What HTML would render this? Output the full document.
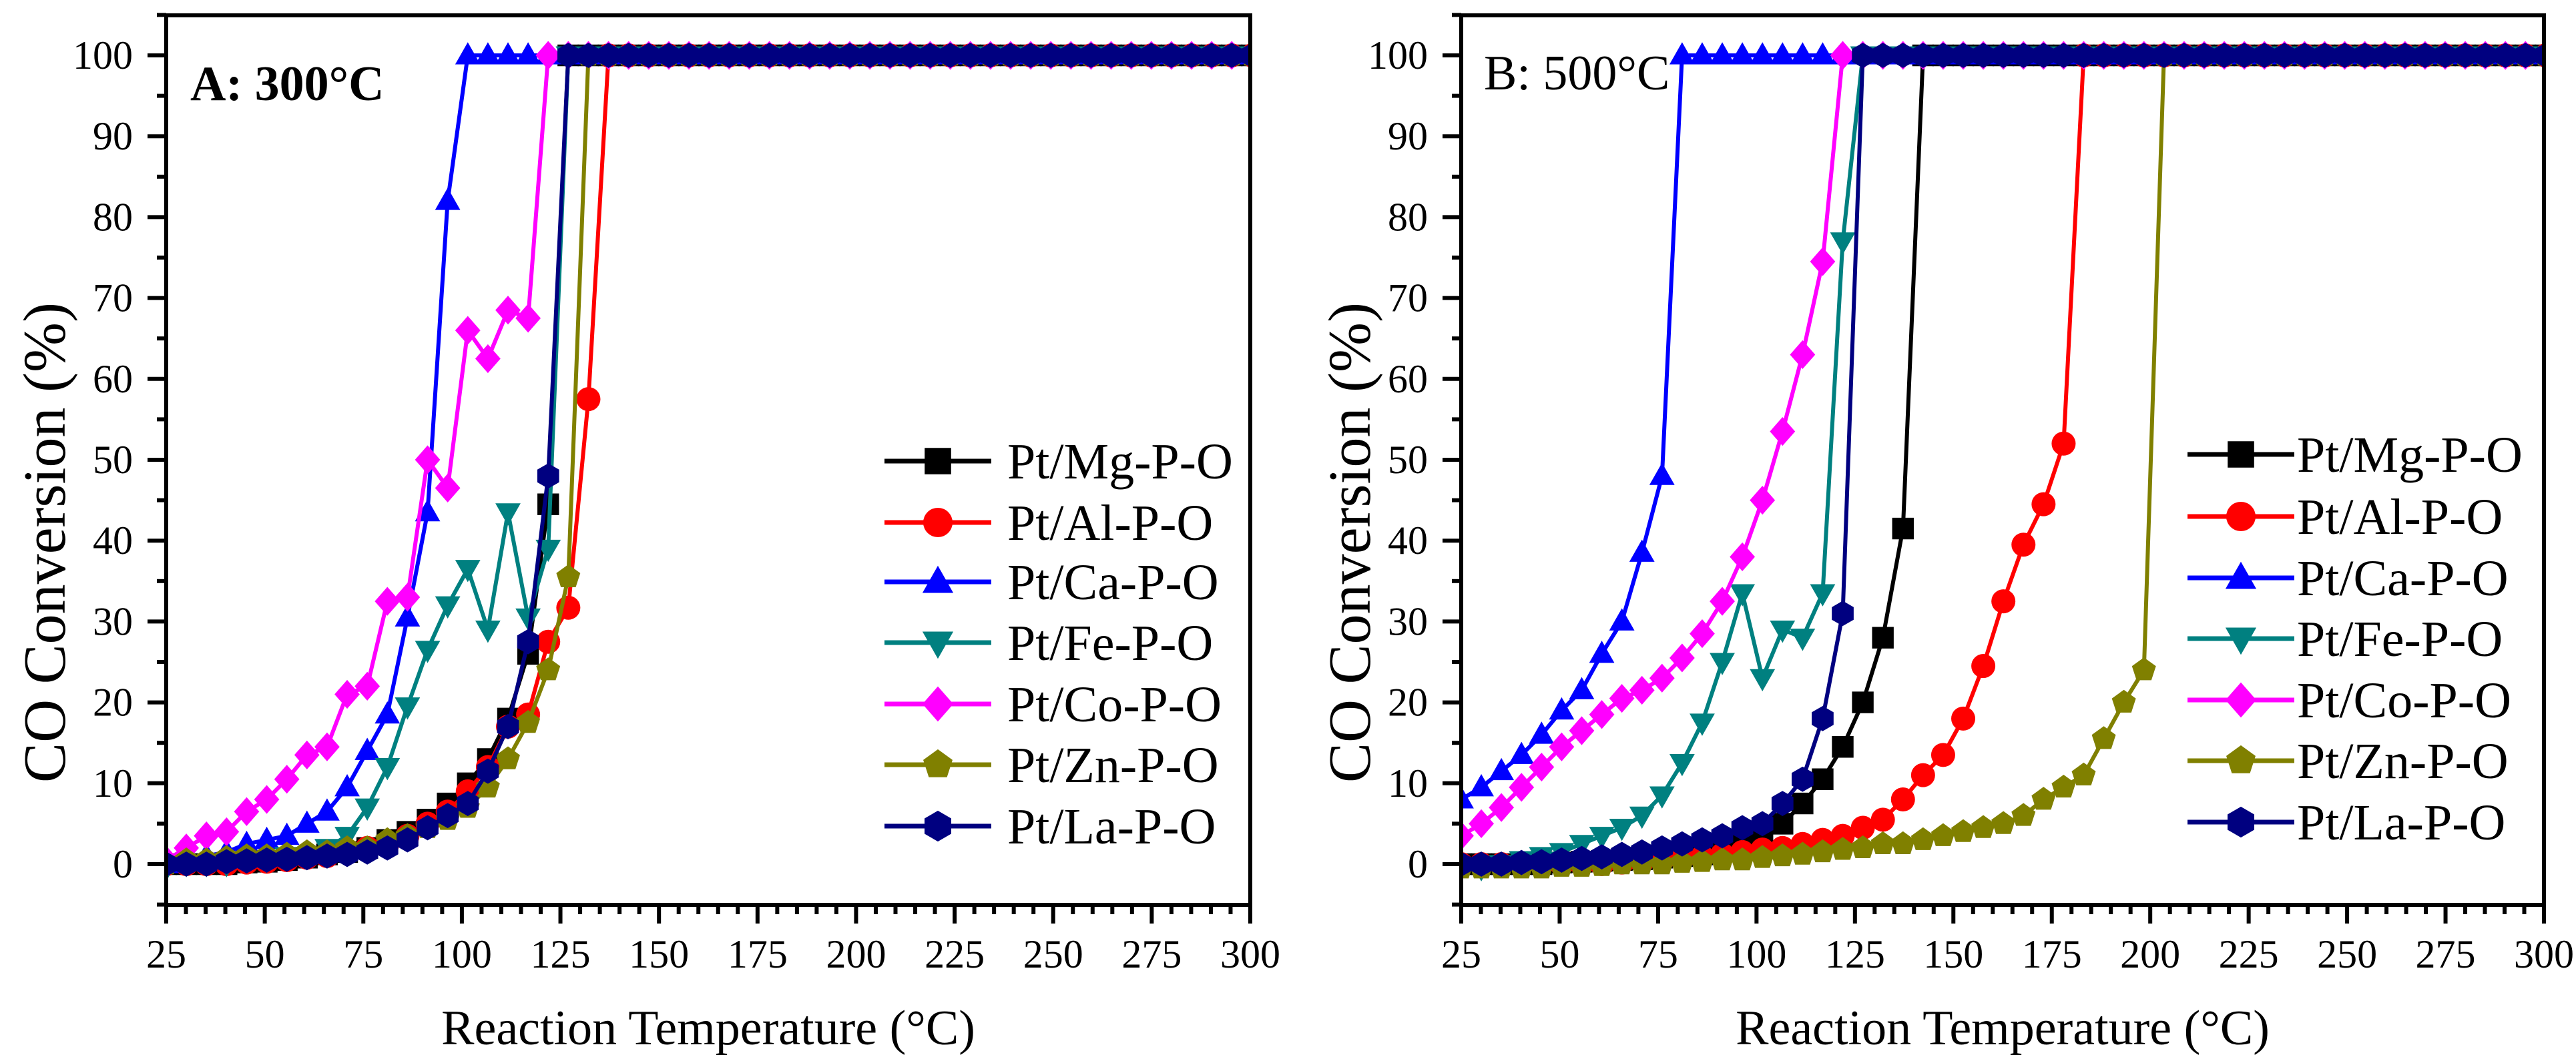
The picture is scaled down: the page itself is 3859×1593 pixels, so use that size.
<!DOCTYPE html>
<html><head><meta charset="utf-8"><style>
html,body{margin:0;padding:0;background:#fff}
svg{display:block}
svg text{font-family:"Liberation Serif","Times New Roman",serif;fill:#000}
</style></head><body>
<svg id="chart" width="3859" height="1593" viewBox="0 0 3859 1593" xmlns="http://www.w3.org/2000/svg" font-family="Liberation Serif, serif"></svg>
<script>
const temps=[25,30.1,35.2,40.3,45.4,50.5,55.6,60.7,65.8,70.9,76,81.1,86.2,91.3,96.4,101.5,106.6,111.7,116.8,121.9,127,132.1,137.2,142.3,147.4,152.5,157.6,162.7,167.8,172.9,178,183.1,188.2,193.3,198.4,203.5,208.6,213.7,218.8,223.9,229,234.1,239.2,244.3,249.4,254.5,259.6,264.7,269.8,274.9,280,285.1,290.2,295.3,300.4];
const seriesNames=["Pt/Mg-P-O","Pt/Al-P-O","Pt/Ca-P-O","Pt/Fe-P-O","Pt/Co-P-O","Pt/Zn-P-O","Pt/La-P-O"];
const xTicks=[25,50,75,100,125,150,175,200,225,250,275,300];
const yTicks=[0,10,20,30,40,50,60,70,80,90,100];
// Panel A (300°C) values, remaining points are 100
const aMg=[0,0,0,0,0.2,0.3,0.5,0.8,1.2,1.5,2,3,4,5.5,7.5,10,13,18,26,44.5,100];
const aAl=[0,0,0,0,0.2,0.3,0.5,0.8,1,1.5,2,2.5,3.5,5,6.5,9,12,17,18.5,27.5,31.7,57.5,100];
const aCa=[0,0.5,1,1.5,2.5,3,3.5,5,6.5,9.5,14,18.5,30.5,43.5,82,100];
const aFe=[-0.5,0,0,0,0.5,0.5,1,1,2,3.5,7,12,19.5,26.5,32,36.5,29,43.5,30.5,39,100];
const aCo=[0.5,2,3.5,4,6.5,8,10.5,13.5,14.5,21,22,32.5,33,50,46.5,66,62.5,68.5,67.5,100];
const aZn=[0,0.5,0.5,0.8,1,1,1.2,1.5,1.5,2,2,3,3.5,4.5,5.5,7,9.5,13,17.5,24,35.5,100];
const aLa=[0,0,0,0.3,0.4,0.5,0.6,0.8,1,1.2,1.5,2,3,4.5,6,7.5,11.5,17,27.5,48,100];
// Panel B (500°C)
const bMg=[0,0,0,0,0,0.2,0.3,0.4,0.5,0.6,0.8,1,1.2,2,2.5,3.5,5,7.5,10.5,14.5,20,28,41.5,100];
const bAl=[0,0,0,0,0,0,0,0,0.2,0.3,0.5,0.7,0.9,1.2,1.5,1.8,2,2.5,3,3.5,4.5,5.5,8,11,13.5,18,24.5,32.5,39.5,44.5,52,100];
const bCa=[8,9.5,11.5,13.5,16,19,21.5,26,30,38.5,48,100];
const bFe=[-0.5,-0.5,0,0.5,1,1.5,2.5,3.5,4.5,6,8.5,12.5,17.5,25,33.5,23,29,28,33.5,77,100];
const bCo=[3.5,5,7,9.5,12,14.5,16.5,18.5,20.5,21.5,23,25.5,28.5,32.5,38,45,53.5,63,74.5,100];
const bZn=[-0.5,-0.5,-0.5,-0.5,-0.5,-0.3,-0.3,-0.2,0,0,0,0.2,0.3,0.5,0.5,0.8,1,1.2,1.5,1.8,2,2.5,2.5,3,3.5,4,4.5,5,6,8,9.5,11,15.5,20,24,100];
const bLa=[0,0,0,0.2,0.3,0.5,0.7,0.9,1.2,1.5,2,2.5,3,3.5,4.5,5,7.5,10.5,18,31,100];

const colors=["#000000","#ff0000","#0000ff","#008080","#ff00ff","#808000","#000080"];
const shapes=["square","circle","tri","dtri","diamond","pent","hex"];
const FONT='"Liberation Serif", "Times New Roman", serif';
const NS="http://www.w3.org/2000/svg";
const svg=document.getElementById('chart');
function mk(tag,attrs,parent){const e=document.createElementNS(NS,tag);for(const k in attrs)e.setAttribute(k,attrs[k]);if(tag==='text')e.setAttribute('font-family',FONT);(parent||svg).appendChild(e);return e;}
function full(arr){const o=[];for(let i=0;i<temps.length;i++)o.push(i<arr.length?arr[i]:100);return o;}
function markerPath(s,cx,cy,r){
  if(s==="square")return `M${cx-r*0.9},${cy-r*0.9}h${r*1.8}v${r*1.8}h${-r*1.8}Z`;
  if(s==="circle")return `M${cx-r},${cy}a${r},${r} 0 1,0 ${2*r},0a${r},${r} 0 1,0 ${-2*r},0Z`;
  if(s==="tri")return `M${cx},${cy-r*1.1}L${cx+r*1.05},${cy+r*0.75}L${cx-r*1.05},${cy+r*0.75}Z`;
  if(s==="dtri")return `M${cx},${cy+r*1.1}L${cx+r*1.05},${cy-r*0.75}L${cx-r*1.05},${cy-r*0.75}Z`;
  if(s==="diamond")return `M${cx},${cy-r*1.2}L${cx+r*1.05},${cy}L${cx},${cy+r*1.2}L${cx-r*1.05},${cy}Z`;
  let n=s==="pent"?5:6,off=s==="pent"?-Math.PI/2:Math.PI/2,d="";
  for(let i=0;i<n;i++){const a=off+i*2*Math.PI/n;d+=(i?"L":"M")+(cx+r*1.05*Math.cos(a))+","+(cy+r*1.05*Math.sin(a));}
  return d+"Z";
}
function panel(id,x0,x1,data,label,bold,legX,legY0){
  const yTop=23,yBot=1356,y0v=1295,ppu=12.12;
  const X=v=>x0+(v-25)*(x1-x0)/275;
  const Y=v=>y0v-v*ppu;
  const g=mk('g',{});
  
  
  const cid=id+'-clip';
  const defs=mk('defs',{},g);
  const cp=mk('clipPath',{id:cid},defs);
  mk('rect',{x:x0,y:yTop,width:x1-x0,height:yBot-yTop},cp);
  const plot=mk('g',{'clip-path':`url(#${cid})`},g);
  data.forEach((arr,si)=>{
    const vals=full(arr);
    const sg=mk('g',{},plot);
    
    
    const pts=vals.map((v,i)=>X(temps[i])+","+Y(v)).join(" ");
    const pl=mk('polyline',{points:pts,fill:'none',stroke:colors[si],'stroke-width':6,'stroke-linejoin':'round'},sg);
    
    
    vals.forEach((v,i)=>{
      const m=mk('path',{d:markerPath(shapes[si],X(temps[i]),Y(v),18),fill:colors[si]},sg);
      
      
    });
  });
  const fr=mk('rect',{x:x0,y:yTop,width:x1-x0,height:yBot-yTop,fill:'none',stroke:'#000','stroke-width':6},g);
  
  
  for(let v=-5;v<=105;v+=5){
    const maj=v%10===0;
    mk('line',{x1:x0,x2:x0-(maj?28:14),y1:Y(v),y2:Y(v),stroke:'#000','stroke-width':6},g);
  }
  yTicks.forEach(v=>{
    const t=mk('text',{x:x0-50,y:Y(v)+20,'text-anchor':'end','font-size':60},g);
    t.textContent=v;
    
    
  });
  for(let v=25;v<=300;v+=5){
    const maj=(v-25)%25===0;
    mk('line',{x1:X(v),x2:X(v),y1:yBot,y2:yBot+(maj?28:14),stroke:'#000','stroke-width':6},g);
  }
  xTicks.forEach(v=>{
    const t=mk('text',{x:X(v),y:1450,'text-anchor':'middle','font-size':60},g);
    t.textContent=v;
    
    
  });
  const xt=mk('text',{x:(x0+x1)/2,y:1565,'text-anchor':'middle','font-size':74},g);
  xt.textContent="Reaction Temperature (°C)";
  
  
  const yx=x0-(id==='a'?152:137);
  const yt=mk('text',{x:yx,y:813,'text-anchor':'middle','font-size':90,transform:`rotate(-90 ${yx} 813)`},g);
  yt.textContent="CO Conversion (%)";
  
  
  const lb=mk('text',{x:x0+(id==='a'?36:34),y:(id==='a'?150:134),'font-size':74,'font-weight':bold?'bold':'normal'},g);
  lb.textContent=label;
  
  
  legY0.forEach((ly,si)=>{
    const lg=mk('g',{},g);
    
    
    mk('line',{x1:legX,x2:legX+160,y1:ly,y2:ly,stroke:colors[si],'stroke-width':7},lg);
    mk('path',{d:markerPath(shapes[si],legX+80,ly,22),fill:colors[si]},lg);
    const t=mk('text',{x:legX+(id==='a'?184:164),y:ly+26,'font-size':76},lg);
    t.textContent=seriesNames[si];
  });
}
panel('a',249,1873,[aMg,aAl,aCa,aFe,aCo,aZn,aLa],"A: 300°C",true,1325,[691,783,872,963,1055,1146,1238]);
panel('b',2189,3811,[bMg,bAl,bCa,bFe,bCo,bZn,bLa],"B: 500°C",false,3277,[681,774,866,957,1049,1140,1232]);
</script>
</body></html>
